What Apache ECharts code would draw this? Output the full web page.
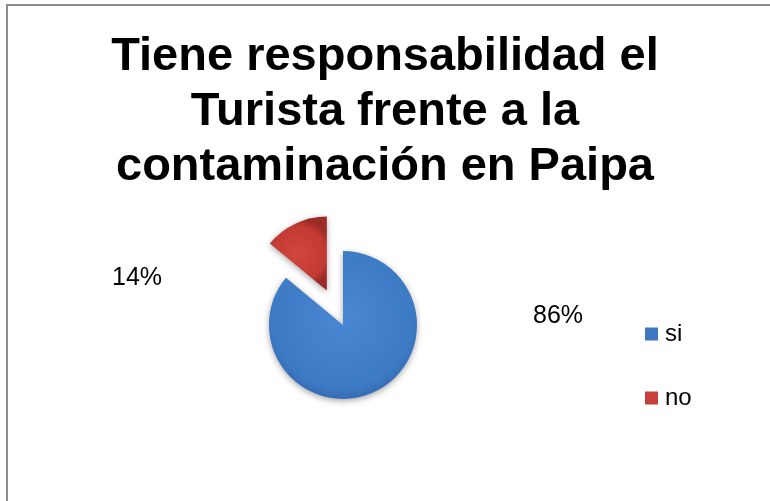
<!DOCTYPE html>
<html>
<head>
<meta charset="utf-8">
<script src="https://cdn.jsdelivr.net/npm/echarts@6/dist/echarts.min.js"></script>
<style>
  html, body { margin: 0; padding: 0; background: #fff; }
  #chart-wrap { width: 770px; height: 501px; }
</style>
</head>
<body>
<div id="chart-wrap"></div>
<script>
;(function(){
  var titleText = 'Tiene responsabilidad el\nTurista frente a la\ncontaminación en Paipa';
  var categories = ['si', 'no'];
  var values = [86, 14];
  var labelTexts = ['86%', '14%'];
  // where the percent labels sit in the picture
  var labelSpots = [[558, 316], [137, 278]];

  var colors = [
    new echarts.graphic.RadialGradient(0.5, 0.45, 0.6, [
      { offset: 0, color: '#4a87d4' },
      { offset: 0.8, color: '#3d7ac4' },
      { offset: 1, color: '#2f62a6' }
    ]),
    new echarts.graphic.RadialGradient(0.5, 0.5, 0.6, [
      { offset: 0, color: '#d2463f' },
      { offset: 0.8, color: '#c23a33' },
      { offset: 1, color: '#9c2b27' }
    ])
  ];
  var legendColors = ['#3f78c0', '#c8403b'];

  var pieData = [];
  for (var i = 0; i < categories.length; i++) {
    pieData.push({
      name: categories[i],
      value: values[i],
      selected: i === 1,
      itemStyle: { color: colors[i] }
    });
  }

  var textItems = [];
  for (var j = 0; j < labelTexts.length; j++) {
    textItems.push({
      type: 'text',
      x: labelSpots[j][0],
      y: labelSpots[j][1],
      silent: true,
      style: {
        text: labelTexts[j],
        align: 'center',
        verticalAlign: 'middle',
        fontFamily: 'Liberation Sans, Arial, sans-serif',
        fontSize: 25,
        fill: '#000'
      }
    });
  }

  var myChart = echarts.init(document.getElementById('chart-wrap'));
  var option = {
    backgroundColor: '#ffffff',
    animation: false,
    title: {
      text: titleText,
      left: 'center',
      top: 30,
      padding: 0,
      textStyle: {
        fontFamily: 'Liberation Sans, Arial, sans-serif',
        fontWeight: 'bold',
        fontSize: 47,
        lineHeight: 55,
        color: '#000'
      }
    },
    legend: {
      orient: 'vertical',
      left: 645,
      top: 322,
      padding: 0,
      itemWidth: 13,
      itemHeight: 13,
      itemGap: 40,
      icon: 'rect',
      data: [
        { name: 'si', itemStyle: { color: legendColors[0] } },
        { name: 'no', itemStyle: { color: legendColors[1] } }
      ],
      textStyle: {
        fontFamily: 'Liberation Sans, Arial, sans-serif',
        fontSize: 24,
        color: '#000',
        padding: [0, 0, 0, 2]
      },
      selectedMode: false
    },
    graphic: [{
      type: 'rect',
      shape: { x: 7, y: 5, width: 800, height: 600 },
      style: { fill: 'none', stroke: '#8c8c8c', lineWidth: 2 },
      silent: true
    }].concat(textItems),
    series: [{
      type: 'pie',
      center: [343, 325],
      radius: 74,
      startAngle: 90,
      clockwise: true,
      selectedMode: 'single',
      selectedOffset: 38,
      itemStyle: {
        shadowBlur: 6,
        shadowColor: 'rgba(0,0,0,0.35)',
        shadowOffsetY: 2
      },
      label: { show: false },
      labelLine: { show: false },
      emphasis: { disabled: true },
      data: pieData
    }]
  };
  myChart.setOption(option);
})();
</script>
</body>
</html>
